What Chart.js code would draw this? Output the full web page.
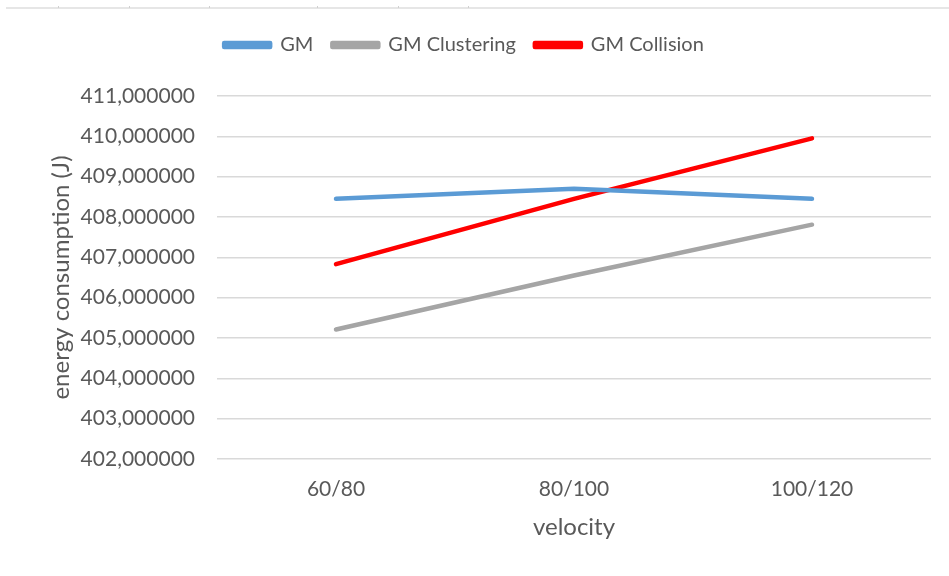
<!DOCTYPE html>
<html>
<head>
<meta charset="utf-8">
<script src="https://cdn.jsdelivr.net/npm/chart.js@4/dist/chart.umd.min.js"></script>
<style>
  html, body { margin: 0; padding: 0; background: #ffffff; }
  #wrap { width: 949px; height: 576px; position: relative; }
</style>
</head>
<body>
<div id="wrap"><canvas id="c" width="949" height="576"></canvas></div>
<script>
// Velocity ranges on the x axis
const categories = ['60/80', '80/100', '100/120'];

// Energy consumption (J) per routing variant
const gmValues = [408.45, 408.70, 408.45];
const gmClusteringValues = [405.21, 406.55, 407.81];
const gmCollisionValues = [406.83, 408.45, 409.95];

// Y axis range and step
const yMin = 402;
const yMax = 411;
const yStep = 1;

const textColor = '#595959';
const fontFamily = 'Lato, "Open Sans", sans-serif';

// Thin sheet-edge strip along the top of the canvas
const topStrip = {
  id: 'topStrip',
  beforeDraw(chart) {
    const ctx = chart.ctx;
    ctx.save();
    ctx.fillStyle = '#e6e6e6';
    ctx.fillRect(6, 7, chart.width - 6, 2);
    ctx.fillStyle = '#d0d0d0';
    [58, 129, 209, 317, 398, 468].forEach(x => ctx.fillRect(x, 6, 1, 2));
    ctx.restore();
  }
};

// Extra space below the legend, and a small leftward shift of the legend row
const legendSpacing = {
  id: 'legendSpacing',
  beforeInit(chart) {
    const legend = chart.legend;
    const origFit = legend.fit;
    legend.fit = function () {
      origFit.call(this);
      this.height += 31;
    };
  },
  afterLayout(chart) {
    chart.legend.left -= 25;
    chart.legend.right -= 25;
  }
};

function seriesDataset(label, data, color) {
  return {
    label: label,
    data: data,
    borderColor: color,
    backgroundColor: color,
    borderWidth: 4.5,
    pointRadius: 0,
    pointHoverRadius: 0,
    tension: 0,
    fill: false,
    borderCapStyle: 'round',
    borderJoinStyle: 'round'
  };
}

new Chart(document.getElementById('c'), {
  type: 'line',
  data: {
    labels: categories,
    datasets: [
      seriesDataset('GM', gmValues, '#5b9bd5'),
      seriesDataset('GM Clustering', gmClusteringValues, '#a5a5a5'),
      seriesDataset('GM Collision', gmCollisionValues, '#ff0000')
    ]
  },
  options: {
    responsive: false,
    animation: false,
    devicePixelRatio: 1,
    layout: { padding: { left: 47, right: 18, top: 16, bottom: 34 } },
    plugins: {
      legend: {
        position: 'top',
        align: 'center',
        labels: {
          boxWidth: 46,
          boxHeight: 4,
          padding: 19,
          color: textColor,
          font: { family: fontFamily, size: 20 }
        }
      },
      tooltip: { enabled: false }
    },
    scales: {
      x: {
        offset: true,
        afterFit(scale) { scale.height = 83; },
        grid: { display: false, drawTicks: false },
        border: { display: false },
        ticks: {
          color: textColor,
          font: { family: fontFamily, size: 21 },
          padding: 18
        },
        title: {
          display: true,
          text: 'velocity',
          color: textColor,
          font: { family: fontFamily, size: 24 },
          padding: 0
        }
      },
      y: {
        min: yMin,
        max: yMax,
        afterFit(scale) { scale.width = 170; },
        grid: { color: '#d9d9d9', lineWidth: 1.5, drawTicks: false },
        border: { display: false },
        ticks: {
          stepSize: yStep,
          color: textColor,
          font: { family: fontFamily, size: 21 },
          padding: 22,
          callback: v => v.toFixed(6).replace('.', ',')
        },
        title: {
          display: true,
          text: 'energy consumption (J)',
          color: textColor,
          font: { family: fontFamily, size: 24 },
          padding: 0
        }
      }
    }
  },
  plugins: [topStrip, legendSpacing]
});
</script>
</body>
</html>
